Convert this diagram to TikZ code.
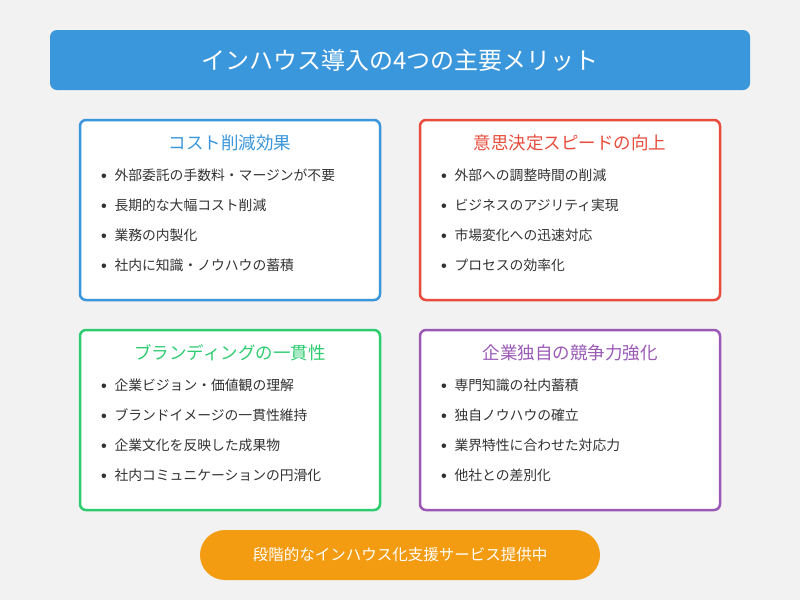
\documentclass[tikz,border=0pt]{standalone}
\usepackage{fontspec}
\setmainfont{Noto Sans CJK JP}
\definecolor{bgcol}{HTML}{F2F2F2}
\definecolor{bluec}{HTML}{3A97DB}
\definecolor{redc}{HTML}{E74C3C}
\definecolor{greenc}{HTML}{2ECC71}
\definecolor{purplec}{HTML}{9B59B6}
\definecolor{orangec}{HTML}{F39C12}
\definecolor{textc}{HTML}{333333}
\newcommand{\dotmark}{\makebox[15pt][l]{\hspace{2pt}\tikz[baseline=-4.5pt]\fill[textc] (0,0) circle (2.3pt);}}
\tikzset{
  card/.style={draw=#1,line width=2.5pt,fill=white,rounded corners=6pt},
  cardtitle/.style={text=#1,font=\fontsize{17.5}{20}\selectfont,anchor=center},
  item/.style={text=textc,font=\fontsize{13.8}{16}\selectfont,anchor=west},
}
\begin{document}
\begin{tikzpicture}[x=1pt,y=-1pt]
  \fill [bgcol] (0,0) rectangle (800,600);
  \useasboundingbox (0,0) rectangle (800,600);
  % title
  \fill [bluec,rounded corners=7pt] (50,30) rectangle (750,90);
  \node [text=white,font=\fontsize{24}{28}\selectfont] (title) at (400,60) {インハウス導入の4つの主要メリット};
  % cards
  \draw [card=bluec] (80,120) rectangle (380,300);
  \draw [card=redc] (420,120) rectangle (720,300);
  \draw [card=greenc] (80,330) rectangle (380,510);
  \draw [card=purplec] (420,330) rectangle (720,510);
  \node [cardtitle=bluec] (costt) at (230,143) {コスト削減効果};
  \node [cardtitle=redc] (speedt) at (570,143) {意思決定スピードの向上};
  \node [cardtitle=greenc] (brandt) at (230,353) {ブランディングの一貫性};
  \node [cardtitle=purplec] (compt) at (570,353) {企業独自の競争力強化};
  \foreach \t [count=\i] in {外部委託の手数料・マージンが不要,長期的な大幅コスト削減,業務の内製化,社内に知識・ノウハウの蓄積}
    \node [item] (cost\i) at (96,145+30*\i) {\dotmark\t};
  \foreach \t [count=\i] in {外部への調整時間の削減,ビジネスのアジリティ実現,市場変化への迅速対応,プロセスの効率化}
    \node [item] (speed\i) at (436,145+30*\i) {\dotmark\t};
  \foreach \t [count=\i] in {企業ビジョン・価値観の理解,ブランドイメージの一貫性維持,企業文化を反映した成果物,社内コミュニケーションの円滑化}
    \node [item] (brand\i) at (96,355+30*\i) {\dotmark\t};
  \foreach \t [count=\i] in {専門知識の社内蓄積,独自ノウハウの確立,業界特性に合わせた対応力,他社との差別化}
    \node [item] (comp\i) at (436,355+30*\i) {\dotmark\t};
  % footer
  \fill [orangec,rounded corners=25pt] (200,530) rectangle (600,580);
  \node [text=white,font=\fontsize{15.5}{18}\selectfont] (support) at (400,555) {段階的なインハウス化支援サービス提供中};
\end{tikzpicture}
\end{document}
